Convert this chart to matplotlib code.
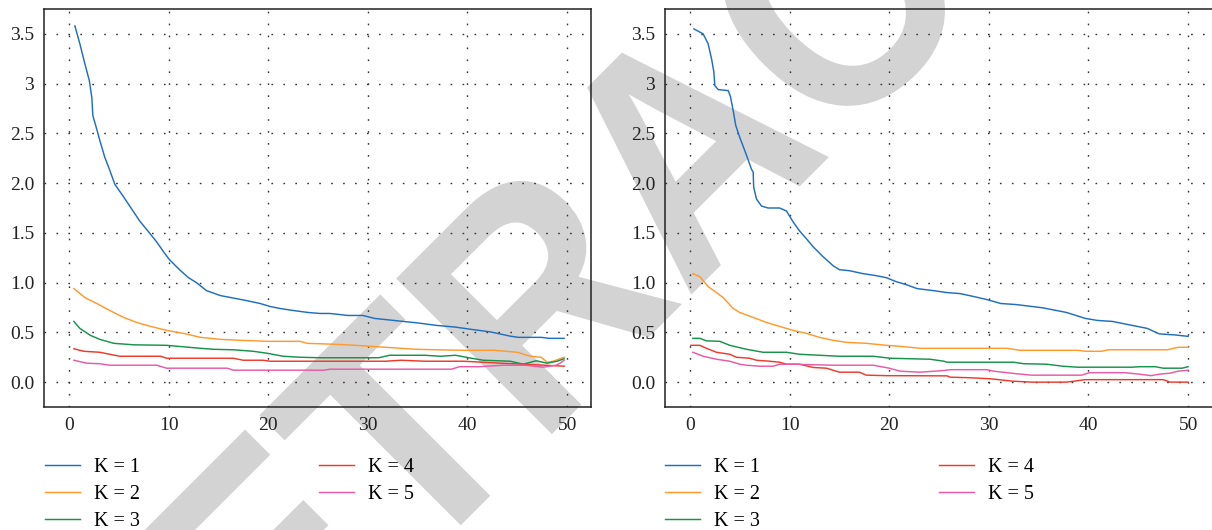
import matplotlib
matplotlib.use("Agg")
import matplotlib.pyplot as plt
import matplotlib.transforms as mtransforms
from matplotlib.textpath import TextPath
from matplotlib.patches import PathPatch
from matplotlib.font_manager import FontProperties

# ---------------- data ----------------
labels = ["K = 1", "K = 2", "K = 3", "K = 4", "K = 5"]
colors = ["#1f6fc0", "#ff9a2e", "#17934a", "#ee3a2c", "#e95aa5"]
xticks = [0, 10, 20, 30, 40, 50]
yticks = [0.0, 0.5, 1.0, 1.5, 2.0, 2.5, 3.0, 3.5]
ytick_labels = ["0.0", "0.5", "1.0", "1.5", "2.0", "2.5", "3", "3.5"]
watermark = "RETRACTED"

# left panel
L1_x = [0.6, 1.1, 1.6, 2.05, 2.3, 2.4, 2.8, 3.1, 3.6, 4.1, 4.6, 5.5, 6.3, 7.1, 8.0, 8.8, 9.5, 10.1, 11.1, 12.0,
        12.8, 13.8, 15.2, 16.5, 17.8, 19.2, 20.2, 21.2, 22.5, 24.0, 25.2, 26.2, 28.0, 29.5, 30.7, 32.6, 35.0,
        36.9, 38.8, 40.4, 42.3, 44.3, 45.1, 47.4, 48.2, 49.7]
L1_y = [3.58, 3.40, 3.20, 3.03, 2.86, 2.68, 2.54, 2.43, 2.26, 2.13, 1.99, 1.86, 1.74, 1.62, 1.51, 1.41, 1.31, 1.23,
        1.13, 1.05, 1.00, 0.92, 0.87, 0.845, 0.82, 0.79, 0.76, 0.74, 0.72, 0.70, 0.69, 0.69, 0.67, 0.67, 0.64,
        0.62, 0.595, 0.57, 0.553, 0.53, 0.505, 0.462, 0.45, 0.45, 0.44, 0.44]
L2_x = [0.5, 1.6, 2.8, 4.1, 5.5, 6.8, 8.2, 9.8, 11.5, 13.2, 15.2, 17.2, 19.9, 23.2, 23.9, 26.8, 28.7, 31.8, 34.9,
        36.9, 39.6, 42.7, 43.9, 45.0, 46.3, 47.4, 48.0, 48.6, 49.7]
L2_y = [0.94, 0.85, 0.79, 0.72, 0.65, 0.60, 0.56, 0.52, 0.49, 0.45, 0.43, 0.42, 0.41, 0.41, 0.39, 0.38, 0.37, 0.35,
        0.33, 0.325, 0.32, 0.32, 0.31, 0.30, 0.26, 0.25, 0.20, 0.21, 0.25]
L3_x = [0.5, 1.1, 2.15, 3.1, 4.5, 6.5, 9.8, 11.5, 13.2, 14.5, 16.5, 18.5, 19.9, 21.5, 23.2, 25.2, 31.1, 32.2, 35.7,
        37.3, 38.8, 40.4, 41.6, 44.3, 45.6, 46.9, 48.0, 49.0, 49.7]
L3_y = [0.61, 0.54, 0.47, 0.43, 0.39, 0.375, 0.37, 0.355, 0.34, 0.33, 0.325, 0.31, 0.29, 0.26, 0.25, 0.245, 0.245,
        0.27, 0.27, 0.26, 0.27, 0.24, 0.22, 0.21, 0.18, 0.215, 0.19, 0.21, 0.235]
L4_x = [0.5, 1.5, 3.1, 4.1, 5.1, 9.2, 9.8, 16.5, 17.5, 19.5, 20.2, 31.8, 33.3, 35.7, 39.6, 43.4, 45.7, 49.7]
L4_y = [0.335, 0.31, 0.30, 0.28, 0.26, 0.26, 0.24, 0.24, 0.22, 0.22, 0.21, 0.21, 0.22, 0.21, 0.21, 0.19, 0.18, 0.16]
L5_x = [0.5, 1.8, 3.1, 4.1, 8.8, 9.8, 15.9, 16.5, 25.6, 26.2, 38.4, 39.2, 41.2, 43.6, 45.8, 47.6, 48.9, 49.3, 49.7]
L5_y = [0.22, 0.19, 0.185, 0.17, 0.17, 0.14, 0.14, 0.12, 0.12, 0.13, 0.13, 0.155, 0.155, 0.17, 0.17, 0.15, 0.17,
        0.19, 0.22]

# right panel
R1_x = [0.4, 1.33, 1.83, 2.17, 2.4, 2.5, 2.84, 3.84, 4.07, 4.34, 4.6, 5.0, 5.68, 6.18, 6.35, 6.4, 6.68, 7.18, 7.85,
        9.0, 9.69, 10.36, 11.0, 11.7, 12.37, 13.37, 14.37, 15.0, 16.0, 17.4, 18.7, 19.7, 20.7, 21.7, 22.8, 24.4,
        25.8, 27.1, 28.5, 29.8, 31.2, 32.7, 35.4, 37.8, 39.7, 40.9, 42.4, 44.4, 45.9, 47.1, 48.6, 50.0]
R1_y = [3.55, 3.50, 3.40, 3.25, 3.12, 2.98, 2.94, 2.93, 2.87, 2.73, 2.58, 2.46, 2.28, 2.14, 2.11, 1.96, 1.84, 1.77,
        1.75, 1.75, 1.72, 1.61, 1.52, 1.44, 1.36, 1.26, 1.17, 1.13, 1.12, 1.09, 1.07, 1.05, 1.01, 0.98, 0.94, 0.92,
        0.90, 0.89, 0.86, 0.83, 0.79, 0.78, 0.747, 0.70, 0.64, 0.62, 0.61, 0.57, 0.54, 0.485, 0.475, 0.46]
R2_x = [0.3, 1.0, 1.83, 2.67, 3.33, 4.34, 5.0, 6.35, 7.68, 9.0, 10.36, 11.7, 13.0, 14.37, 15.7, 17.7, 19.7, 21.1,
        23.1, 31.8, 33.1, 38.9, 39.7, 41.3, 42.0, 47.9, 49.0, 50.0]
R2_y = [1.09, 1.06, 0.96, 0.90, 0.85, 0.74, 0.70, 0.65, 0.60, 0.56, 0.52, 0.49, 0.45, 0.42, 0.40, 0.39, 0.37, 0.36,
        0.34, 0.34, 0.32, 0.32, 0.31, 0.31, 0.325, 0.325, 0.35, 0.35]
R3_x = [0.3, 1.0, 1.66, 3.0, 4.0, 5.68, 7.35, 9.7, 11.0, 15.0, 18.4, 20.1, 24.1, 25.5, 25.8, 32.5, 33.5, 35.8,
        37.4, 38.9, 44.4, 45.1, 46.7, 47.5, 49.4, 50.0]
R3_y = [0.44, 0.44, 0.415, 0.41, 0.37, 0.33, 0.30, 0.30, 0.28, 0.26, 0.26, 0.24, 0.23, 0.21, 0.20, 0.20, 0.185,
        0.18, 0.16, 0.15, 0.15, 0.155, 0.155, 0.14, 0.14, 0.155]
R4_x = [0.1, 1.0, 1.66, 2.67, 4.0, 4.67, 6.0, 6.68, 8.0, 9.0, 9.7, 11.0, 12.4, 13.7, 15.0, 17.0, 17.7, 19.7, 25.8,
        26.1, 28.1, 30.1, 30.8, 32.3, 34.3, 37.8, 39.7, 47.5, 48.2, 50.0]
R4_y = [0.37, 0.37, 0.34, 0.30, 0.28, 0.25, 0.24, 0.22, 0.21, 0.20, 0.18, 0.18, 0.147, 0.14, 0.10, 0.10, 0.07,
        0.065, 0.063, 0.05, 0.044, 0.034, 0.027, 0.01, 0.0, 0.0, 0.025, 0.025, 0.0, 0.0]
R5_x = [0.3, 1.33, 2.67, 4.0, 5.0, 5.68, 7.0, 8.35, 9.0, 10.4, 14.37, 18.4, 20.0, 21.1, 23.1, 25.5, 26.1, 29.8,
        30.5, 32.7, 34.3, 39.3, 40.1, 43.6, 45.1, 46.3, 47.1, 48.2, 49.0, 50.0]
R5_y = [0.30, 0.26, 0.23, 0.21, 0.18, 0.17, 0.16, 0.16, 0.18, 0.18, 0.17, 0.17, 0.14, 0.11, 0.10, 0.117, 0.125,
        0.125, 0.11, 0.085, 0.07, 0.07, 0.095, 0.095, 0.08, 0.065, 0.08, 0.09, 0.11, 0.12]

left_series = [(L1_x, L1_y), (L2_x, L2_y), (L3_x, L3_y), (L4_x, L4_y), (L5_x, L5_y)]
right_series = [(R1_x, R1_y), (R2_x, R2_y), (R3_x, R3_y), (R4_x, R4_y), (R5_x, R5_y)]

# ---------------- figure ----------------
plt.rcParams['font.family'] = ['Liberation Serif', 'DejaVu Serif']
W, H = 1212, 530
fig = plt.figure(figsize=(W / 100, H / 100), dpi=100)

# retraction watermark: outlined glyphs, slightly condensed, rotated 45 degrees,
# baseline starting below the figure (display pixels)
wm_path = TextPath((0, 0), watermark, size=1,
                   prop=FontProperties(family='Liberation Sans', weight='bold'))
wm_tr = mtransforms.Affine2D().scale(290, 320).rotate_deg(45).translate(128, H - 858)
fig.add_artist(PathPatch(wm_path, transform=wm_tr, facecolor='#d3d3d3',
                         edgecolor='none', zorder=-1))

ax_w = 547 / W
ax_h = 398 / H
ax_b = (H - 407) / H
axL = fig.add_axes([44 / W, ax_b, ax_w, ax_h])
axR = fig.add_axes([665 / W, ax_b, 550 / W, ax_h])

for ax, series, legx, xmax in ((axL, left_series, 44.5, 52.4), (axR, right_series, 664.8, 52.7)):
    ax.set_facecolor('none')
    handles = []
    for (xs, ys), c, lab in zip(series, colors, labels):
        h, = ax.plot(xs, ys, color=c, lw=1.05, label=lab)
        handles.append(h)
    ax.set_xlim(-2.5, xmax)
    ax.set_ylim(-0.25, 3.75)
    ax.set_xticks(xticks)
    ax.set_yticks(yticks)
    ax.set_yticklabels(ytick_labels)
    ax.tick_params(length=0, labelsize=14, colors='#222222')
    ax.tick_params(axis='y', pad=7)
    ax.tick_params(axis='x', pad=7)
    ax.grid(True, color='#333333', lw=1.0, linestyle=(0, (1.2, 7.4)))
    for s in ax.spines.values():
        s.set_color('#222222')
        s.set_linewidth(1.1)
    fig.legend(handles=handles, labels=labels, ncol=2, loc='upper left',
               bbox_to_anchor=(legx / W, 1 - 458 / H), frameon=False, fontsize=14.5,
               handlelength=1.74, handletextpad=0.7, labelspacing=0.4, columnspacing=8.9,
               borderpad=0, borderaxespad=0)

fig.savefig("out.png", dpi=100)
